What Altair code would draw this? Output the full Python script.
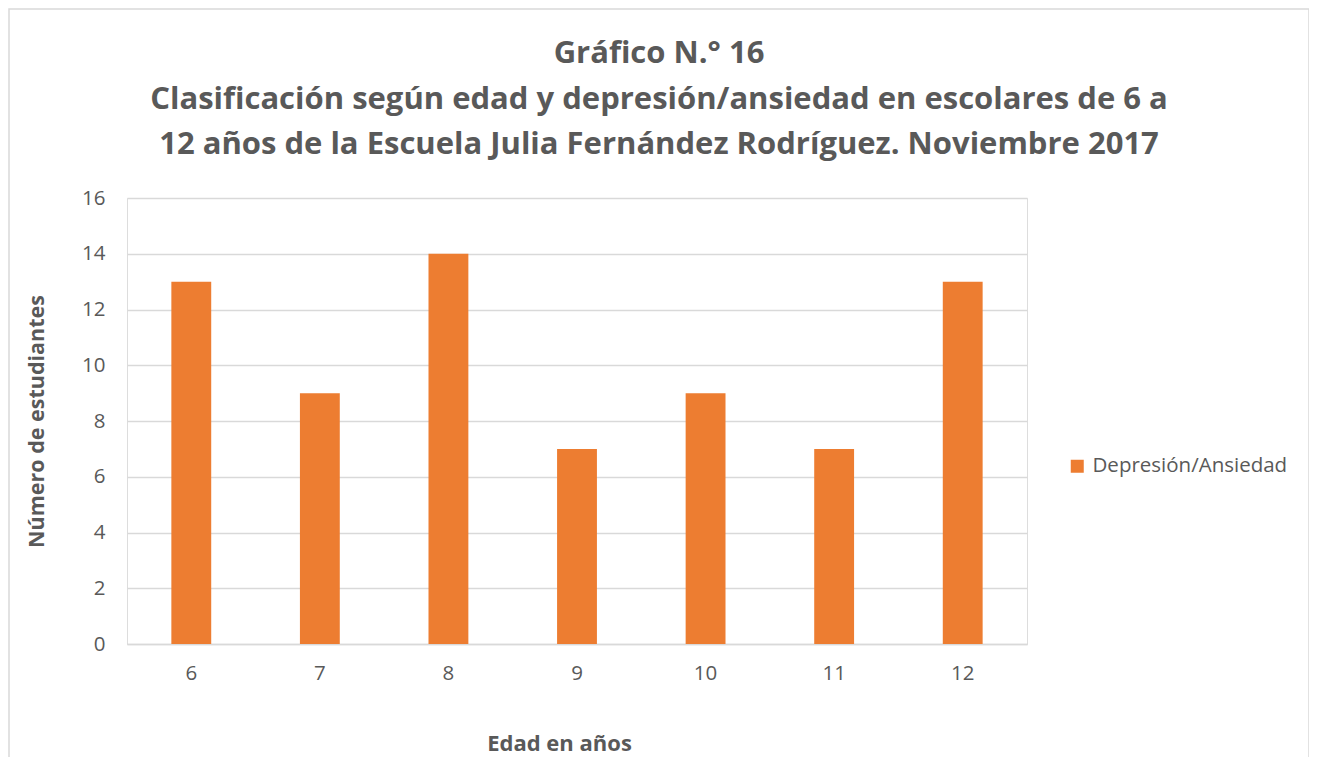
import altair as alt
import pandas as pd

edades = ["6", "7", "8", "9", "10", "11", "12"]
valores = [13, 9, 14, 7, 9, 7, 13]
serie = "Depresión/Ansiedad"

df = pd.DataFrame({"Edad": edades, "Valor": valores, "Serie": [serie] * len(edades)})

FONT = "Open Sans"
GRAY = "#595959"

border = alt.Chart(pd.DataFrame({"a": [0]})).mark_rect(
    fillOpacity=0, stroke="#d9d9d9", strokeWidth=1.5
).encode(
    x=alt.value(-118), x2=alt.value(1182), y=alt.value(-189), y2=alt.value(600)
)

bars = alt.Chart(df).mark_bar(color="#ED7D31").encode(
    x=alt.X("Edad:N", sort=edades,
            scale=alt.Scale(paddingInner=0.69, paddingOuter=0.345),
            axis=alt.Axis(title="Edad en años", labelAngle=0, labelFontSize=20.5,
                          labelColor=GRAY, labelFont=FONT, labelPadding=19,
                          ticks=False, domainColor="#d9d9d9", domainWidth=1.5,
                          titleFontSize=22, titleFont=FONT, titleColor=GRAY,
                          titleFontWeight="bold", titlePadding=50, titleX=432)),
    y=alt.Y("Valor:Q", scale=alt.Scale(domain=[0, 16]),
            axis=alt.Axis(title="Número de estudiantes", values=list(range(0, 17, 2)),
                          labelFontSize=20.5, labelColor=GRAY, labelFont=FONT,
                          labelPadding=22, ticks=False, domain=False,
                          gridColor="#d9d9d9", gridWidth=1.5,
                          titleFontSize=21.5, titleFont=FONT, titleColor=GRAY,
                          titleFontWeight="bold", titlePadding=33)),
    fill=alt.Fill("Serie:N", scale=alt.Scale(range=["#ED7D31"]),
                  legend=alt.Legend(title=None, orient="none", legendX=940, legendY=258,
                                    symbolType="square", symbolSize=169, labelLimit=400,
                                    labelFontSize=20.5, labelColor=GRAY, labelFont=FONT,
                                    symbolStrokeWidth=0, labelOffset=5)),
)

chart = alt.layer(border, bars).properties(
    width=900,
    height=446,
    title=alt.Title(
        ["Gráfico N.° 16",
         "Clasificación según edad y depresión/ansiedad en escolares de 6 a",
         "12 años de la Escuela Julia Fernández Rodríguez. Noviembre 2017"],
        fontSize=31, font=FONT, fontWeight="bold", color=GRAY,
        anchor="middle", frame="group", dx=82, lineHeight=45.5, offset=-153,
    ),
    autosize=alt.AutoSizeParams(type="none"),
    padding={"left": 119, "top": 190, "right": 282, "bottom": 113},
).configure_view(strokeWidth=0).configure(background="white")

chart.save("out.html", embed_options={"renderer": "svg", "actions": False})
